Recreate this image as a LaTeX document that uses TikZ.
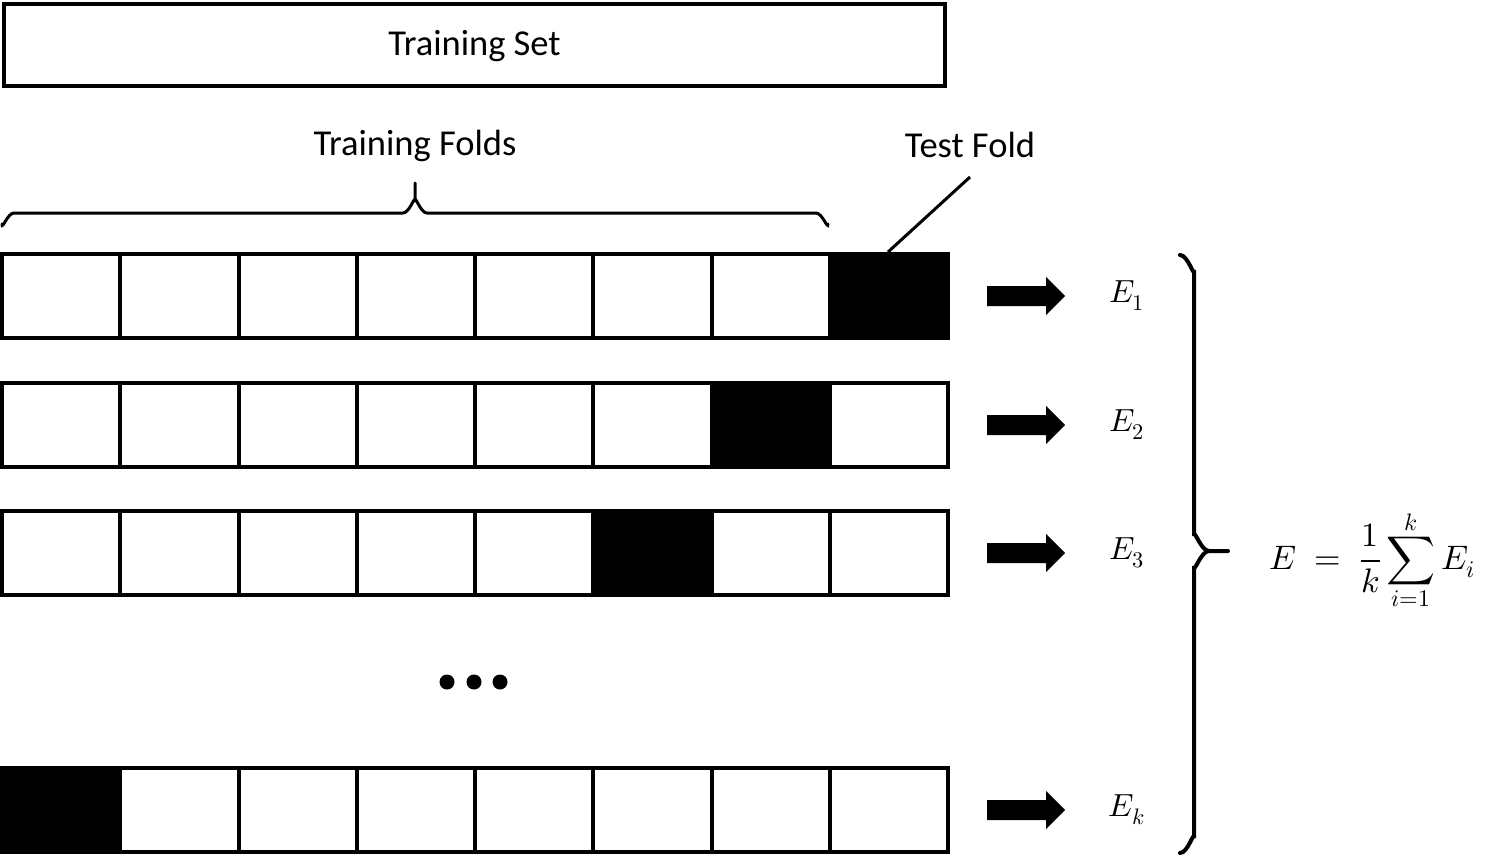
\documentclass[tikz,border=0pt]{standalone}
\usepackage{amsmath}
\usepackage{unicode-math}
\setmainfont{Carlito}
\setmathfont{Latin Modern Math}
\begin{document}
\begin{tikzpicture}[x=1pt,y=-1pt,
  cellbox/.style={draw,line width=4pt,minimum width=118.25pt,minimum height=84pt,inner sep=0pt,fill=white},
  testcell/.style={cellbox,fill=black},
  lbl/.style={font=\fontsize{36.5}{40}\selectfont,inner sep=0pt},
  mlbl/.style={font=\fontsize{32}{36}\selectfont,inner sep=0pt},
  bracestyle/.style={line width=3pt,line cap=round},
  bigarrow/.style={fill=black}]
\useasboundingbox (0,0) rectangle (1498,856);
% Training set
\node[draw,line width=4.5pt,minimum width=941pt,minimum height=82pt,inner sep=0pt] (ts) at (474.5,45) {};
\node[lbl] (tstext) at (474.5,46) {Training Set};
% rows
\foreach \r/\y/\t in {1/296/8,2/425/7,3/553/6,k/810/1}{
  \foreach \c in {1,...,8}{
    \ifnum\c=\t
      \node[testcell] (cell-\r-\c) at ({2+118.25*(\c-0.5)},\y) {};
    \else
      \node[cellbox] (cell-\r-\c) at ({2+118.25*(\c-0.5)},\y) {};
    \fi
  }
  \coordinate (ar-\r) at (987,\y);
  \fill[bigarrow] (ar-\r) ++(0,-10) -- ++(59,0) -- ++(0,-9) -- ++(19,19) -- ++(-19,19) -- ++(0,-9) -- ++(-59,0) -- cycle;
  \node[mlbl] (e-\r) at (1127,\y) {$E_{\r}$};
}
% labels
\node[lbl] (tf) at (415,146) {Training Folds};
\node[lbl] (testf) at (970,145) {Test Fold};
\coordinate (tfl) at (970,177);
\draw[line width=3pt] (tfl) -- (cell-1-8.north west -| 888,0);
% small brace
\draw[bracestyle] (2,224) to[out=-90,in=180] (14,213) -- (403,213) to[out=0,in=90] (415,201) -- (415,183);
\draw[bracestyle] (415,201) to[out=90,in=180] (427,213) -- (816,213) to[out=0,in=-90] (828,224);
% dots
\foreach \x [count=\i] in {447,474,500}{
  \fill (\x,682) circle (7.5pt);
}
% big brace
\draw[line width=4pt,line cap=round] (1180,255) to[out=0,in=-90] (1194,270) -- (1194,536) to[out=90,in=180] (1209,551) -- (1228,551);
\draw[line width=4pt,line cap=round] (1209,551) to[out=180,in=-90] (1194,566) -- (1194,838) to[out=90,in=0] (1180,853);
% formula
\node[font=\fontsize{34}{38}\selectfont,inner sep=0pt] (formula) at (1372,560) {$\displaystyle E\;=\;\frac{1}{k}\sum_{i=1}^{k}E_i$};
\end{tikzpicture}
\end{document}
